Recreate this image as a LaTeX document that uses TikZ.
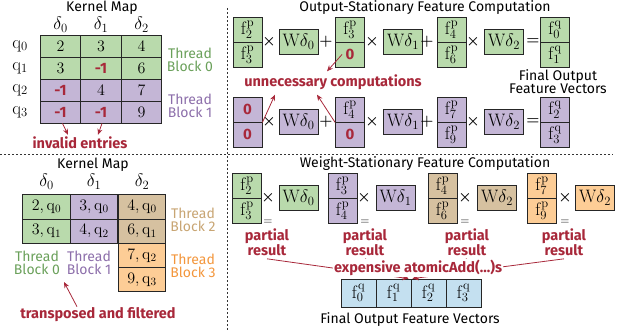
\documentclass[tikz,border=0pt]{standalone}
\usepackage{fix-cm}
\usepackage[no-math]{fontspec}
\setmainfont{Fira Sans}
\usetikzlibrary{arrows.meta}

\definecolor{gfill}{RGB}{185,218,172}
\definecolor{pfill}{RGB}{196,182,214}
\definecolor{tfill}{RGB}{214,193,160}
\definecolor{ofill}{RGB}{253,205,150}
\definecolor{bfill}{RGB}{196,224,240}
\definecolor{gtext}{RGB}{106,160,90}
\definecolor{ptext}{RGB}{140,110,170}
\definecolor{ttext}{RGB}{200,165,115}
\definecolor{otext}{RGB}{243,150,60}
\definecolor{redc}{RGB}{168,40,58}

\newcommand{\fP}[1]{\mathrm{f}^{\mathrm{p}}_{#1}}
\newcommand{\fQ}[1]{\mathrm{f}^{\mathrm{q}}_{#1}}
\newcommand{\Wdel}[1]{\mathrm{W}\delta_{#1}}
\newcommand{\qq}[1]{\mathrm{q}_{#1}}

\begin{document}
\begin{tikzpicture}[x=1pt, y=-1pt,
    txt/.style={font=\fontsize{14}{13}\selectfont, align=center, inner sep=0},
    redtxt/.style={txt, font=\fontsize{14.5}{13}\selectfont\bfseries, text=redc},
    lbl/.style={font=\fontsize{18}{18}\selectfont, inner sep=0},
    kcell/.style={draw=black!85, line width=0.8pt, minimum width=40.7pt, minimum height=22pt, inner sep=0, font=\fontsize{16}{16}\selectfont},
    bcell/.style={kcell, minimum width=47.5pt, minimum height=24.25pt},
    sbox/.style={draw=black!85, line width=0.8pt, minimum width=29pt, minimum height=25pt, inner sep=0, font=\fontsize{18}{18}\selectfont},
    wbox/.style={sbox, minimum width=39pt},
    obox/.style={sbox, minimum width=35pt, minimum height=28pt, fill=bfill},
    op/.style={font=\fontsize{15}{15}\selectfont\boldmath, inner sep=0},
    eq/.style={font=\fontsize{12}{12}\selectfont, inner sep=0},
    bad/.style={text=redc, font=\fontsize{15}{15}\selectfont\bfseries},
    redarr/.style={draw=redc, line width=0.8pt, -{Stealth[length=6pt,width=5pt]}},
    divider/.style={draw=black!80, line width=0.6pt, dash pattern=on 2pt off 2pt}]

    \useasboundingbox (0,0) rectangle (619,334);

    % dividers
    \draw[divider] (227,8) -- (227,330);
    \draw[divider] (0,154) -- (613,154);

    % top left: kernel map
    \node[txt] (km1) at (102,8) {Kernel Map};
    \node[lbl] (d10) at (60.5,25) {$\delta_0$};
    \node[lbl] (d11) at (101,25) {$\delta_1$};
    \node[lbl] (d12) at (141.5,25) {$\delta_2$};
    \node[lbl] (q0) at (20,46) {$\qq0$};
    \node[lbl] (q1) at (20,68) {$\qq1$};
    \node[lbl] (q2) at (20,90) {$\qq2$};
    \node[lbl] (q3) at (20,112) {$\qq3$};

    \node[kcell, fill=gfill] (c00) at (60.5,46) {$2$};
    \node[kcell, fill=gfill] (c01) at (101,46) {$3$};
    \node[kcell, fill=gfill] (c02) at (141.5,46) {$4$};
    \node[kcell, fill=gfill] (c10) at (60.5,68) {$3$};
    \node[kcell, fill=gfill, bad] (c11) at (101,68) {-1};
    \node[kcell, fill=gfill] (c12) at (141.5,68) {$6$};
    \node[kcell, fill=pfill, bad] (c20) at (60.5,90) {-1};
    \node[kcell, fill=pfill] (c21) at (101,90) {$4$};
    \node[kcell, fill=pfill] (c22) at (141.5,90) {$7$};
    \node[kcell, fill=pfill, bad] (c30) at (60.5,112) {-1};
    \node[kcell, fill=pfill, bad] (c31) at (101,112) {-1};
    \node[kcell, fill=pfill] (c32) at (141.5,112) {$9$};

    \node[txt, text=gtext] (tb0) at (190,60) {Thread\\Block 0};
    \node[txt, text=ptext] (tb1) at (190,106) {Thread\\Block 1};

    \node[redtxt] (inv) at (80,143) {invalid entries};
    \draw[redarr] ([xshift=2pt]c30.south) -- ([xshift=-12pt,yshift=2pt]inv.north);
    \draw[redarr] ([xshift=1pt]c31.south) -- ([xshift=18pt,yshift=2pt]inv.north);

    % top right: output-stationary
    \node[txt] (os) at (425,8) {Output-Stationary Feature Computation};

    \node[sbox, fill=gfill] (a1t) at (247.5,29.5) {$\fP2$};
    \node[sbox, fill=gfill] (a1b) at (247.5,54.5) {$\fP3$};
    \node[op] (ax1) at (269,42) {$\times$};
    \node[wbox, fill=gfill] (aw1) at (298.5,42) {$\Wdel0$};
    \node[op] (ap1) at (326,42) {$+$};
    \node[sbox, fill=gfill] (a2t) at (350,29.5) {$\fP3$};
    \node[sbox, fill=gfill, bad] (a2b) at (350,54.5) {0};
    \node[op] (ax2) at (372,42) {$\times$};
    \node[wbox, fill=gfill] (aw2) at (403,42) {$\Wdel1$};
    \node[op] (ap2) at (427,42) {$+$};
    \node[sbox, fill=gfill] (a3t) at (451.5,29.5) {$\fP4$};
    \node[sbox, fill=gfill] (a3b) at (451.5,54.5) {$\fP6$};
    \node[op] (ax3) at (473,42) {$\times$};
    \node[wbox, fill=gfill] (aw3) at (504,42) {$\Wdel2$};
    \node[op] (aeq) at (533,42) {$=$};
    \node[sbox, fill=gfill] (a4t) at (555,29.5) {$\fQ0$};
    \node[sbox, fill=gfill] (a4b) at (555,54.5) {$\fQ1$};

    \node[txt] (fo1) at (558,81.5) {Final Output\\Feature Vectors};

    \node[sbox, fill=pfill, bad] (e1t) at (247.5,109.5) {0};
    \node[sbox, fill=pfill, bad] (e1b) at (247.5,134.5) {0};
    \node[op] (ex1) at (269,122) {$\times$};
    \node[wbox, fill=pfill] (ew1) at (298.5,122) {$\Wdel0$};
    \node[op] (ep1) at (326,122) {$+$};
    \node[sbox, fill=pfill] (e2t) at (350,109.5) {$\fP4$};
    \node[sbox, fill=pfill, bad] (e2b) at (350,134.5) {0};
    \node[op] (ex2) at (372,122) {$\times$};
    \node[wbox, fill=pfill] (ew2) at (403,122) {$\Wdel1$};
    \node[op] (ep2) at (427,122) {$+$};
    \node[sbox, fill=pfill] (e3t) at (451.5,109.5) {$\fP7$};
    \node[sbox, fill=pfill] (e3b) at (451.5,134.5) {$\fP9$};
    \node[op] (ex3) at (473,122) {$\times$};
    \node[wbox, fill=pfill] (ew3) at (504,122) {$\Wdel2$};
    \node[op] (eeq) at (533,122) {$=$};
    \node[sbox, fill=pfill] (e4t) at (555,109.5) {$\fQ2$};
    \node[sbox, fill=pfill] (e4b) at (555,134.5) {$\fQ3$};

    \node[redtxt] (un) at (333,82) {unnecessary computations};
    \draw[redarr] ([xshift=-8pt]a2b.center) -- ([xshift=-6pt,yshift=3pt]un.north);
    \draw[redarr] (e1t.south east) -- ([xshift=-58pt,yshift=-5pt]un.south);
    \draw[redarr] (e2t.south west) -- ([xshift=-16pt,yshift=-5pt]un.south);

    % bottom left: transposed kernel map
    \node[txt] (km2) at (93,165) {Kernel Map};
    \node[lbl] (d20) at (46.5,182) {$\delta_0$};
    \node[lbl] (d21) at (94,182) {$\delta_1$};
    \node[lbl] (d22) at (142,182) {$\delta_2$};

    \node[bcell, fill=gfill] (t00) at (46.5,207) {$2, \qq0$};
    \node[bcell, fill=pfill] (t01) at (94,207) {$3, \qq0$};
    \node[bcell, fill=tfill] (t02) at (142,207) {$4, \qq0$};
    \node[bcell, fill=gfill] (t10) at (46.5,231.25) {$3, \qq1$};
    \node[bcell, fill=pfill] (t11) at (94,231.25) {$4, \qq2$};
    \node[bcell, fill=tfill] (t12) at (142,231.25) {$6, \qq1$};
    \node[bcell, fill=ofill] (t22) at (142,255.5) {$7, \qq2$};
    \node[bcell, fill=ofill] (t32) at (142,279.75) {$9, \qq3$};

    \node[txt, text=ttext] (tb2) at (193,220) {Thread\\Block 2};
    \node[txt, text=otext] (tb3) at (193,266) {Thread\\Block 3};
    \node[txt, text=gtext] (tb0b) at (37,263) {Thread\\Block 0};
    \node[txt, text=ptext] (tb1b) at (89,263) {Thread\\Block 1};

    \node[redtxt] (tr) at (98,315) {transposed and filtered};
    \coordinate (trtip) at (64,282);
    \draw[redarr] ([xshift=-21pt,yshift=1pt]tr.north) -- (trtip);

    % bottom right: weight-stationary
    \node[txt] (ws) at (425,164) {Weight-Stationary Feature Computation};

    \node[sbox, fill=gfill] (g1t) at (247,185.5) {$\fP2$};
    \node[sbox, fill=gfill] (g1b) at (247,210.5) {$\fP3$};
    \node[op] (gx1) at (268,198) {$\times$};
    \node[wbox, fill=gfill] (gw1) at (298.5,198) {$\Wdel0$};
    \node[eq] (ge1) at (268,222) {$=$};
    \node[redtxt] (pr1) at (267,242) {partial\\result};

    \node[sbox, fill=pfill] (g2t) at (342.5,185.5) {$\fP3$};
    \node[sbox, fill=pfill] (g2b) at (342.5,210.5) {$\fP4$};
    \node[op] (gx2) at (364,198) {$\times$};
    \node[wbox, fill=pfill] (gw2) at (395.5,198) {$\Wdel1$};
    \node[eq] (ge2) at (365,222) {$=$};
    \node[redtxt] (pr2) at (365,242) {partial\\result};

    \node[sbox, fill=tfill] (g3t) at (442.5,185.5) {$\fP4$};
    \node[sbox, fill=tfill] (g3b) at (442.5,210.5) {$\fP6$};
    \node[op] (gx3) at (465,198) {$\times$};
    \node[wbox, fill=tfill] (gw3) at (497,198) {$\Wdel2$};
    \node[eq] (ge3) at (465,222) {$=$};
    \node[redtxt] (pr3) at (467,242) {partial\\result};

    \node[sbox, fill=ofill] (g4t) at (542,185.5) {$\fP7$};
    \node[sbox, fill=ofill] (g4b) at (542,210.5) {$\fP9$};
    \node[op] (gx4) at (565,198) {$\times$};
    \node[wbox, fill=ofill] (gw4) at (595,198) {$\Wdel2$};
    \node[eq] (ge4) at (565,222) {$=$};
    \node[redtxt] (pr4) at (564,242) {partial\\result};

    \node[obox] (o0) at (358.5,293) {$\fQ0$};
    \node[obox] (o1) at (393.5,293) {$\fQ1$};
    \node[obox] (o2) at (428.5,293) {$\fQ2$};
    \node[obox] (o3) at (463.5,293) {$\fQ3$};
    \node[txt] (fo2) at (410,320) {Final Output Feature Vectors};

    \draw[redarr] ([yshift=-3pt]pr1.south) -- ([xshift=-3pt]o1.north east);
    \draw[redarr] ([yshift=-3pt]pr2.south) -- ([xshift=-3pt]o1.north east);
    \draw[redarr] ([yshift=-3pt]pr3.south) -- ([xshift=2pt]o2.north west);
    \draw[redarr] ([yshift=-3pt]pr4.south) -- ([xshift=2pt]o2.north west);
    \node[redtxt, fill=white, inner sep=1pt] (atom) at (418,268) {expensive atomicAdd(...)s};
\end{tikzpicture}
\end{document}
